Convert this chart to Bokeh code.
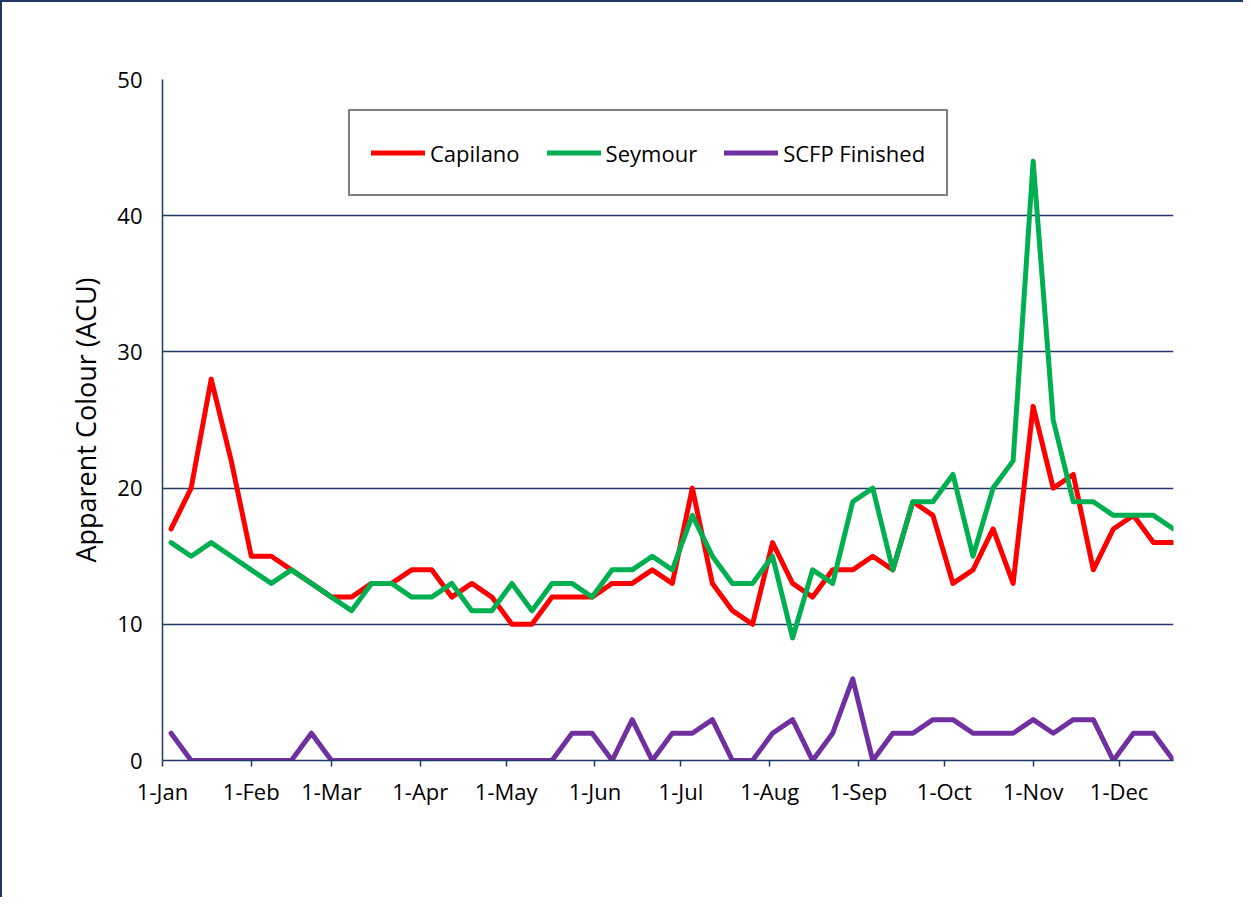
import pandas as pd
from bokeh.plotting import figure
from bokeh.models import FixedTicker, Legend, LegendItem, Range1d, ColumnDataSource
from bokeh.embed import file_html
from bokeh.resources import INLINE

# ---- data ----
start_date = "2010-01-04"
n_weeks = 51
capilano = [17, 20, 28, 22, 15, 15, 14, 13, 12, 12, 13, 13, 14, 14, 12, 13, 12, 10, 10, 12,
            12, 12, 13, 13, 14, 13, 20, 13, 11, 10, 16, 13, 12, 14, 14, 15, 14, 19, 18, 13,
            14, 17, 13, 26, 20, 21, 14, 17, 18, 16, 16]
seymour = [16, 15, 16, 15, 14, 13, 14, 13, 12, 11, 13, 13, 12, 12, 13, 11, 11, 13, 11, 13,
           13, 12, 14, 14, 15, 14, 18, 15, 13, 13, 15, 9, 14, 13, 19, 20, 14, 19, 19, 21,
           15, 20, 22, 44, 25, 19, 19, 18, 18, 18, 17]
scfp = [2, 0, 0, 0, 0, 0, 0, 2, 0, 0, 0, 0, 0, 0, 0, 0, 0, 0, 0, 0,
        2, 2, 0, 3, 0, 2, 2, 3, 0, 0, 2, 3, 0, 2, 6, 0, 2, 2, 3, 3,
        2, 2, 2, 3, 2, 3, 3, 0, 2, 2, 0]
month_starts = ["2010-01-01", "2010-02-01", "2010-03-01", "2010-04-01", "2010-05-01", "2010-06-01",
                "2010-07-01", "2010-08-01", "2010-09-01", "2010-10-01", "2010-11-01", "2010-12-01"]
month_labels = ["1-Jan", "1-Feb", "1-Mar", "1-Apr", "1-May", "1-Jun",
                "1-Jul", "1-Aug", "1-Sep", "1-Oct", "1-Nov", "1-Dec"]
y_ticks = [0, 10, 20, 30, 40, 50]
series_names = ["Capilano", "Seymour", "SCFP Finished"]
series_colors = ["#FF0000", "#00B050", "#7030A0"]

dates = pd.date_range(start_date, periods=n_weeks, freq="7D")
src = ColumnDataSource(dict(x=dates, cap=capilano, sey=seymour, scfp=scfp))

def ms(d):
    return pd.Timestamp(d).value / 1e6

NAVY = "#1F3864"
FONT = "Open Sans"

p = figure(x_axis_type="datetime", output_backend="svg", toolbar_location=None,
           frame_width=1011, frame_height=681,
           min_border_left=160, min_border_top=77, min_border_right=70, min_border_bottom=137,
           x_range=Range1d(ms("2010-01-01"), ms(dates[-1])), y_range=Range1d(0, 50))
p.styles = {"border-left": f"2px solid {NAVY}", "border-top": f"2px solid {NAVY}"}
p.outline_line_color = None
p.background_fill_color = "white"
p.border_fill_color = "white"

renderers = []
for col, name, color in zip(["cap", "sey", "scfp"], series_names, series_colors):
    r = p.line("x", col, source=src, line_color=color, line_width=5,
               line_join="round", line_cap="round")
    renderers.append((name, r))

# x axis
tick_ms = [ms(d) for d in month_starts]
p.xaxis.ticker = FixedTicker(ticks=tick_ms)
p.xaxis.major_label_overrides = {t: lab for t, lab in zip(tick_ms, month_labels)}
p.xaxis.axis_line_color = NAVY
p.xaxis.axis_line_width = 1.5
p.xaxis.major_tick_line_color = NAVY
p.xaxis.major_tick_line_width = 1.5
p.xaxis.major_tick_out = 6
p.xaxis.major_tick_in = 0
p.xaxis.minor_tick_line_color = None
p.xaxis.major_label_text_font = FONT
p.xaxis.major_label_text_font_size = "22px"
p.xaxis.major_label_text_color = "black"
p.xaxis.major_label_standoff = 9
p.xgrid.grid_line_color = None

# y axis
p.yaxis.ticker = FixedTicker(ticks=y_ticks)
p.yaxis.axis_line_color = NAVY
p.yaxis.axis_line_width = 1.5
p.yaxis.major_tick_out = 0
p.yaxis.major_tick_in = 0
p.yaxis.minor_tick_line_color = None
p.yaxis.major_label_text_font = FONT
p.yaxis.major_label_text_font_size = "22px"
p.yaxis.major_label_text_color = "black"
p.yaxis.major_label_standoff = 20
p.yaxis.axis_label = "Apparent Colour (ACU)"
p.yaxis.axis_label_text_font = FONT
p.yaxis.axis_label_text_font_size = "27px"
p.yaxis.axis_label_text_font_style = "normal"
p.yaxis.axis_label_text_color = "black"
p.yaxis.axis_label_standoff = 10
p.ygrid.grid_line_color = NAVY
p.ygrid.grid_line_width = 1.5

legend = Legend(items=[LegendItem(label=n, renderers=[r]) for n, r in renderers],
                orientation="horizontal", location=(186, 564),
                padding=21, spacing=27, glyph_width=54, glyph_height=41, label_height=41,
                label_standoff=5, label_text_font=FONT, label_text_font_size="22px",
                label_text_color="black", border_line_color="black", border_line_width=2,
                background_fill_color="white", background_fill_alpha=1.0, margin=0)
p.add_layout(legend, "center")

open("out.html", "w").write(file_html(p, INLINE))
